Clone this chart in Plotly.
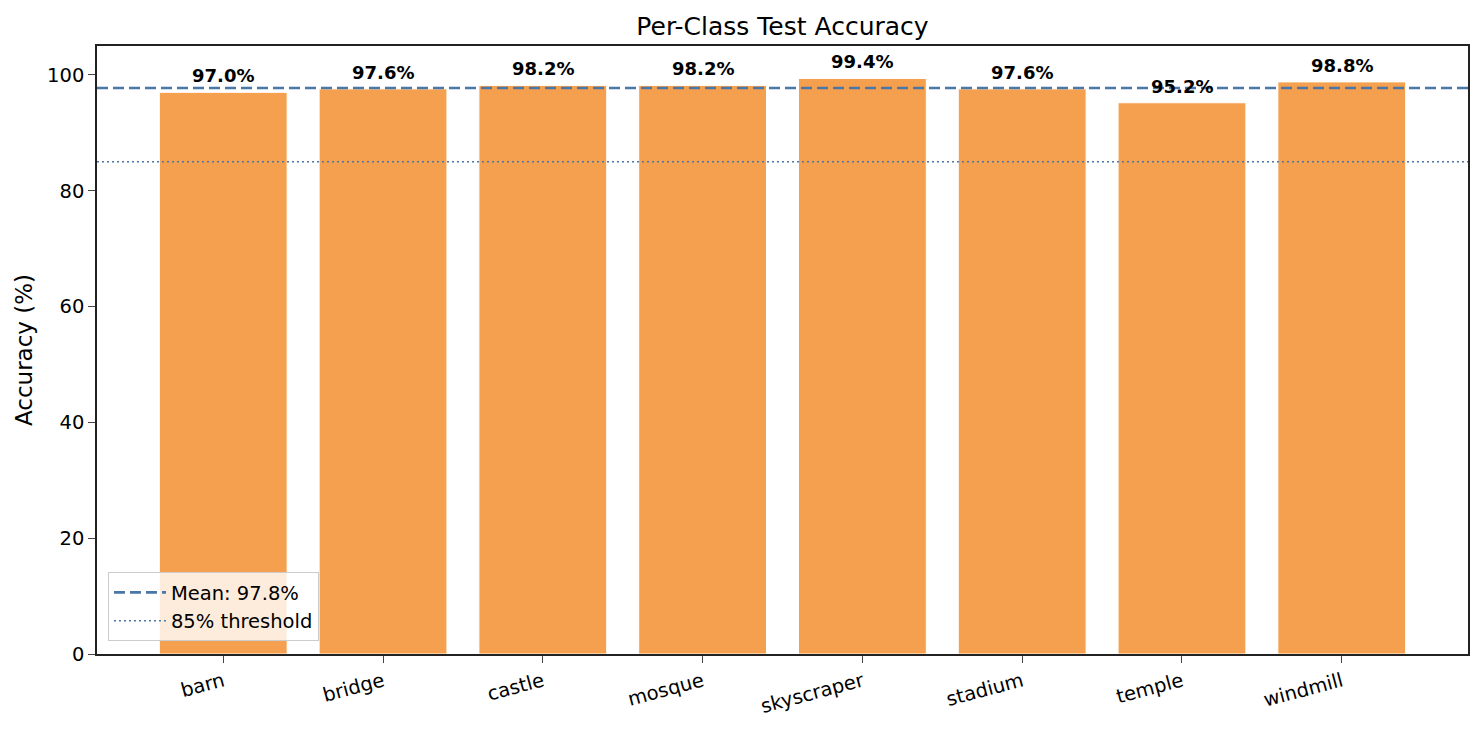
import plotly.graph_objects as go

# per-class accuracy values
classes = ['barn', 'bridge', 'castle', 'mosque', 'skyscraper', 'stadium',
           'temple', 'windmill']
accuracy = [97.0, 97.6, 98.2, 98.2, 99.4, 97.6, 95.2, 98.8]
threshold = 85.0
mean_acc = sum(accuracy) / len(accuracy)

BAR_COLOR = '#f4a04e'
LINE_COLOR = '#4a76a8'
FONT = 'DejaVu Sans'

xs = list(range(len(classes)))
x_lo, x_hi = -0.79, len(classes) - 1 + 0.79

fig = go.Figure()
fig.add_trace(go.Bar(x=xs, y=accuracy, width=0.8,
                     marker=dict(color=BAR_COLOR,
                                 line=dict(color='white', width=1)),
                     showlegend=False, hoverinfo='x+y'))
fig.add_trace(go.Scatter(x=[x_lo, x_hi], y=[mean_acc, mean_acc],
                         mode='lines', name=f'Mean: {mean_acc:.1f}%',
                         line=dict(color=LINE_COLOR, width=2.6,
                                   dash='11px,5px')))
fig.add_trace(go.Scatter(x=[x_lo, x_hi], y=[threshold, threshold],
                         mode='lines', name=f'{threshold:.0f}% threshold',
                         line=dict(color=LINE_COLOR, width=1.6,
                                   dash='2px,3px')))

# value labels above each bar
for xi, v in zip(xs, accuracy):
    fig.add_annotation(x=xi, y=v, text=f'<b>{v:.1f}%</b>', showarrow=False,
                       yanchor='bottom', yshift=4,
                       font=dict(family=FONT, size=18, color='black'))

fig.update_layout(
    width=1484, height=732,
    paper_bgcolor='white', plot_bgcolor='white',
    margin=dict(l=97, r=16, t=46, b=78),
    font=dict(family=FONT, size=19.5, color='black'),
    title=dict(text='Per-Class Test Accuracy', xref='paper', x=0.5,
               xanchor='center', y=1 - 26 / 732, yanchor='middle',
               font=dict(family=FONT, size=25)),
    showlegend=True,
    legend=dict(x=0.008, y=0.021, xanchor='left', yanchor='bottom',
                bgcolor='rgba(255,255,255,0.8)', bordercolor='#cccccc',
                borderwidth=1, itemwidth=52,
                font=dict(family=FONT, size=19.5)),
)
fig.update_xaxes(range=[x_lo, x_hi], tickmode='array', tickvals=xs,
                 ticktext=classes, tickangle=-15, ticks='outside', ticklen=7,
                 showline=True, linecolor='#222222', linewidth=1.5,
                 mirror=True, showgrid=False, zeroline=False)
fig.update_yaxes(range=[0, 105], tickvals=[0, 20, 40, 60, 80, 100],
                 ticks='outside', ticklen=7, showline=True,
                 linecolor='#222222', linewidth=1.5, mirror=True,
                 showgrid=False, zeroline=False,
                 title=dict(text='Accuracy (%)', standoff=8))

fig.write_html('out.html', config={'displayModeBar': False},
               post_script="document.body.style.margin='0';")
